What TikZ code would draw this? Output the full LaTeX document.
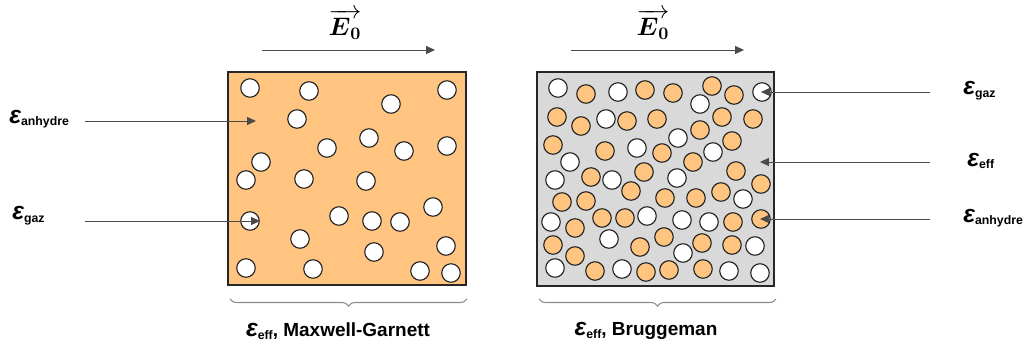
\documentclass[tikz,border=0pt]{standalone}
\usepackage{amsmath,amssymb}
\usepackage[no-math]{fontspec}
\setmainfont{Liberation Sans}
\usepackage{tikz}
\usetikzlibrary{positioning,arrows.meta,decorations.pathreplacing}
\definecolor{peach}{HTML}{FFC580}
\definecolor{haze}{HTML}{D9D9D9}
\definecolor{ink}{HTML}{262626}
\definecolor{wire}{HTML}{4A4A4A}

% epsilon with a sans subscript
\newcommand{\epsl}[1]{{\fontsize{14}{14}\selectfont\bfseries\itshape ε}\raisebox{-1.5pt}{\fontsize{7}{8}\selectfont\bfseries #1}}

\tikzset{
  gas/.style={circle, draw=ink, fill=white, line width=0.65pt, inner sep=0pt, minimum size=0.37cm},
  solid/.style={gas, fill=peach},
  arr/.style={draw=wire, line width=0.5pt, -{Triangle[length=5pt,width=4.5pt]}},
  lbl/.style={inner sep=0pt},
  brk/.style={draw=black!45, line width=0.6pt, decorate, decoration={brace, mirror, amplitude=4pt}}
}

\begin{document}
\begin{tikzpicture}[x=0.02cm, y=-0.02cm]
\useasboundingbox (0,0) rectangle (1025,347);

% Field arrows
\node[lbl, font=\Large, anchor=south] (e0L) at (345,40) {$\overrightarrow{\boldsymbol{E}_{\mathbf{0}}}$};
\node[lbl, font=\Large, anchor=south] (e0R) at (653,40) {$\overrightarrow{\boldsymbol{E}_{\mathbf{0}}}$};
\coordinate (fL0) at (262,50);
\coordinate (fL1) at (435,50);
\coordinate (fR0) at (571,50);
\coordinate (fR1) at (744,50);
\draw[arr] (fL0) -- (fL1);
\draw[arr] (fR0) -- (fR1);

% Maxwell-Garnett box
\draw[fill=peach, draw=ink, line width=0.9pt] (228,72) rectangle (466,285);
\foreach \x/\y [count=\i] in {250/88, 309/91, 447/90, 391/104, 297/119, 369/138, 327/148,
    404/151, 447/146, 261/162, 246/180, 304/179, 366/181, 433/207, 339/216, 372/221,
    400/222, 250/221, 300/239, 374/252, 446/246, 246/268, 313/269, 420/271, 451/273} {
    \node[gas] (mg\i) at (\x,\y) {};
}

% Bruggeman box
\draw[fill=haze, draw=ink, line width=0.9pt] (537,72) rectangle (774,286);
% gas inclusions
\foreach \x/\y [count=\i] in {558/88, 618/92, 762/92, 700/104, 606/119, 678/138, 637/148,
    713/152, 570/162, 555/180, 612/180, 677/178, 743/199, 551/222, 647/216, 682/220,
    709/222, 609/239, 683/253, 755/246, 555/268, 622/269, 729/271, 760/273} {
    \node[gas] (bg\i) at (\x,\y) {};
}
% anhydrous grains
\foreach \x/\y [count=\i] in {586/94, 645/90, 673/93, 712/86, 734/95, 557/117, 581/126,
    627/121, 657/119, 722/117, 753/119, 700/130, 553/145, 605/151, 662/153, 732/141,
    693/162, 591/177, 644/172, 631/191, 736/171, 761/184, 562/202, 586/201, 665/198,
    696/198, 721/192, 575/228, 602/218, 625/218, 733/222, 761/219, 553/245, 640/247,
    664/237, 702/243, 732/245, 575/256, 595/271, 646/272, 669/270, 703/269} {
    \node[solid] (bs\i) at (\x,\y) {};
}

% Labels, left
\node[lbl, anchor=west] (anhL) at (9,119) {\epsl{anhydre}};
\node[lbl, anchor=west] (gazL) at (12,216) {\epsl{gaz}};
\coordinate (anhLend) at (256,121);
\coordinate (gazLend) at (260,221);
\draw[arr, shorten <=9pt] (anhL.east |- anhLend) -- (anhLend);
\draw[arr, shorten <=23pt] (gazL.east |- gazLend) -- (gazLend);

% Labels, right
\node[lbl, anchor=west] (gazR) at (963,91) {\epsl{gaz}};
\node[lbl, anchor=west] (effR) at (967,161) {\epsl{eff}};
\node[lbl, anchor=west] (anhR) at (963,218) {\epsl{anhydre}};
\coordinate (gazRend) at (761,92);
\coordinate (effRend) at (760,162);
\coordinate (anhRend) at (760,219);
\draw[arr, shorten <=19pt] (gazR.west |- gazRend) -- (gazRend);
\draw[arr, shorten <=21pt] (effR.west |- effRend) -- (effRend);
\draw[arr, shorten <=19pt] (anhR.west |- anhRend) -- (anhRend);

% Brackets and model names
\draw[brk] (230,299) -- (467,299);
\draw[brk] (539,299) -- (776,299);
\node[lbl, font=\fontsize{10.8}{12}\selectfont\bfseries] (mgName) at (338,331) {\epsl{eff}, Maxwell-Garnett};
\node[lbl, font=\fontsize{10.8}{12}\selectfont\bfseries] (brName) at (646,331) {\epsl{eff}, Bruggeman};

\end{tikzpicture}
\end{document}
